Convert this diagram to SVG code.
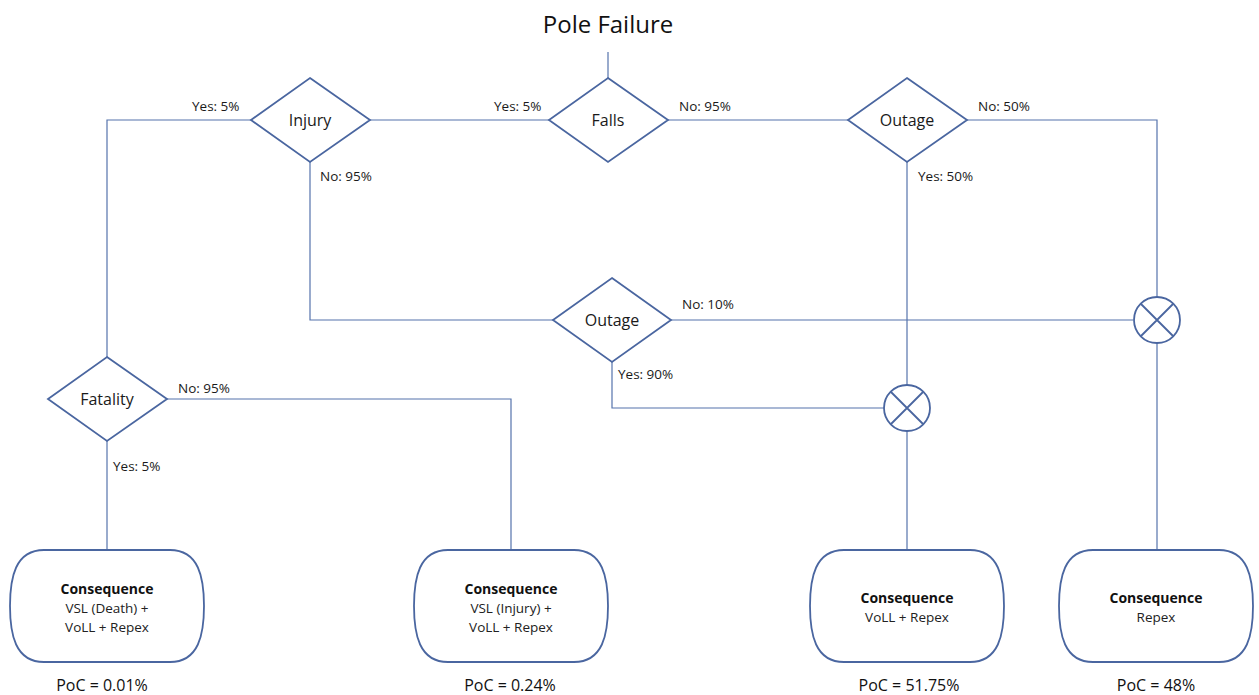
<svg xmlns="http://www.w3.org/2000/svg" width="1259" height="695" viewBox="0 0 1259 695">
  <style>
    .shape { fill: #ffffff; stroke: #4a66a0; stroke-width: 1.8; }
    .wire { fill: none; stroke: #5573ac; stroke-width: 1.2; }
    .lbl { font-family: "Open Sans", "Noto Sans", sans-serif; font-size: 13.5px; fill: #1a1a1a; }
    .dtxt { font-family: "Open Sans", "Noto Sans", sans-serif; font-size: 16px; fill: #1a1a1a; text-anchor: middle; }
    .chead { font-family: "Open Sans", "Noto Sans", sans-serif; font-size: 14px; font-weight: bold; fill: #111111; text-anchor: middle; }
    .cbody { font-family: "Open Sans", "Noto Sans", sans-serif; font-size: 13.5px; fill: #222222; text-anchor: middle; }
    .poc { font-family: "Open Sans", "Noto Sans", sans-serif; font-size: 16px; fill: #111111; text-anchor: middle; }
    .title { font-family: "Open Sans", "Noto Sans", sans-serif; font-size: 24px; fill: #111111; text-anchor: middle; }
  </style>
  <rect width="1259" height="695" fill="#ffffff"/>

  <text class="title" x="608" y="33">Pole Failure</text>

  <!-- connectors -->
  <g id="connectors">
    <path class="wire" d="M608,52 V78"/>
    <path class="wire" d="M549,120 H370"/>
    <path class="wire" d="M668,120 H848"/>
    <path class="wire" d="M967,120 H1157 V297"/>
    <path class="wire" d="M251,120 H107 V357"/>
    <path class="wire" d="M310,162 V320 H553"/>
    <path class="wire" d="M671,320 H1133"/>
    <path class="wire" d="M907,162 V385"/>
    <path class="wire" d="M612,362 V408 H884"/>
    <path class="wire" d="M907,431 V549"/>
    <path class="wire" d="M1157,343 V549"/>
    <path class="wire" d="M167,399 H511 V549"/>
    <path class="wire" d="M107,441 V549"/>
  </g>

  <!-- branch labels -->
  <g id="labels">
    <text class="lbl" x="192" y="111">Yes: 5%</text>
    <text class="lbl" x="494" y="111">Yes: 5%</text>
    <text class="lbl" x="679" y="111">No: 95%</text>
    <text class="lbl" x="320" y="181">No: 95%</text>
    <text class="lbl" x="978" y="111">No: 50%</text>
    <text class="lbl" x="918" y="181">Yes: 50%</text>
    <text class="lbl" x="682" y="309">No: 10%</text>
    <text class="lbl" x="618" y="379">Yes: 90%</text>
    <text class="lbl" x="178" y="393">No: 95%</text>
    <text class="lbl" x="113" y="471">Yes: 5%</text>
  </g>

  <!-- decision nodes -->
  <g id="falls">
    <polygon class="shape" points="608,78 668,120 608,162 549,120"/>
    <text class="dtxt" x="608" y="126">Falls</text>
  </g>
  <g id="injury">
    <polygon class="shape" points="310,78 370,120 310,162 251,120"/>
    <text class="dtxt" x="310" y="126">Injury</text>
  </g>
  <g id="outage-top">
    <polygon class="shape" points="907,78 967,120 907,162 848,120"/>
    <text class="dtxt" x="907" y="126">Outage</text>
  </g>
  <g id="outage-mid">
    <polygon class="shape" points="612,278 671,320 612,362 553,320"/>
    <text class="dtxt" x="612" y="326">Outage</text>
  </g>
  <g id="fatality">
    <polygon class="shape" points="107,357 167,399 107,441 48,399"/>
    <text class="dtxt" x="107" y="405">Fatality</text>
  </g>

  <!-- OR junctions -->
  <g id="junction-right">
    <circle class="shape" cx="1157" cy="320" r="23"/>
    <path class="shape" d="M1141,304 L1173,336 M1173,304 L1141,336"/>
  </g>
  <g id="junction-mid">
    <circle class="shape" cx="907" cy="408" r="23"/>
    <path class="shape" d="M891,392 L923,424 M923,392 L891,424"/>
  </g>

  <!-- consequence nodes -->
  <g id="consequence-1">
    <path class="shape" d="M44,550 H170 C199,550 204,578 204,606 C204,634 199,662 170,662 H44 C15,662 10,634 10,606 C10,578 15,550 44,550 Z"/>
    <text class="chead" x="107" y="594">Consequence</text>
    <text class="cbody" x="107" y="613">VSL (Death) +</text>
    <text class="cbody" x="107" y="632">VoLL + Repex</text>
    <text class="poc" x="102" y="691">PoC = 0.01%</text>
  </g>
  <g id="consequence-2">
    <path class="shape" d="M448,550 H574 C603,550 608,578 608,606 C608,634 603,662 574,662 H448 C419,662 414,634 414,606 C414,578 419,550 448,550 Z"/>
    <text class="chead" x="511" y="594">Consequence</text>
    <text class="cbody" x="511" y="613">VSL (Injury) +</text>
    <text class="cbody" x="511" y="632">VoLL + Repex</text>
    <text class="poc" x="510" y="691">PoC = 0.24%</text>
  </g>
  <g id="consequence-3">
    <path class="shape" d="M844,550 H970 C999,550 1004,578 1004,606 C1004,634 999,662 970,662 H844 C815,662 810,634 810,606 C810,578 815,550 844,550 Z"/>
    <text class="chead" x="907" y="603">Consequence</text>
    <text class="cbody" x="907" y="622">VoLL + Repex</text>
    <text class="poc" x="909" y="691">PoC = 51.75%</text>
  </g>
  <g id="consequence-4">
    <path class="shape" d="M1093,550 H1219 C1248,550 1253,578 1253,606 C1253,634 1248,662 1219,662 H1093 C1064,662 1059,634 1059,606 C1059,578 1064,550 1093,550 Z"/>
    <text class="chead" x="1156" y="603">Consequence</text>
    <text class="cbody" x="1156" y="622">Repex</text>
    <text class="poc" x="1156" y="691">PoC = 48%</text>
  </g>
</svg>
